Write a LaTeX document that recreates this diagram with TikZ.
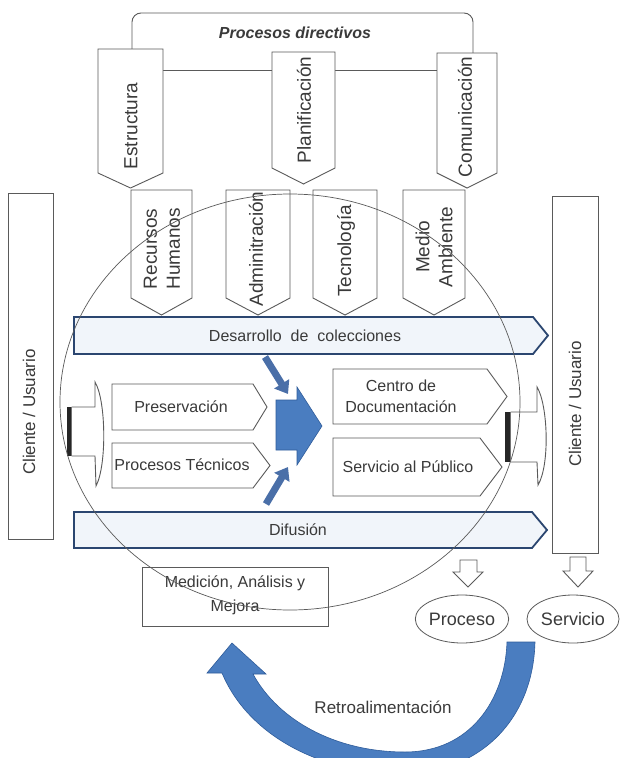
\documentclass[tikz,border=0pt]{standalone}
\usepackage{fontspec}
\setmainfont{Liberation Sans}
\usetikzlibrary{arrows.meta,shapes.geometric}
\definecolor{txt}{HTML}{3A3A3A}
\definecolor{edge}{HTML}{5A5A5A}
\definecolor{navy}{HTML}{2B4670}
\definecolor{barfill}{HTML}{F1F5FA}
\definecolor{blueA}{HTML}{4A7DC0}
\definecolor{blueB}{HTML}{2F5C9A}
\definecolor{blueC}{HTML}{4A6FA8}
\newcommand\pentD[5]{\draw[pshape] (#1,#3) -- (#2,#3) -- (#2,#4) -- ({(#1+#2)/2},#5) -- (#1,#4) -- cycle;}
\newcommand\pentR[5]{\draw[pshape] (#1,#4) -- (#2,#4) -- (#3,{(#4+#5)/2}) -- (#2,#5) -- (#1,#5) -- cycle;}
\begin{document}
\begin{tikzpicture}[x=1pt,y=-1pt,
  pshape/.style={draw=edge, line width=0.9pt, fill=white},
  bar/.style={draw=navy, line width=1.8pt, fill=barfill},
  vtext/.style={rotate=90, text=txt, font=\fontsize{19}{23}\selectfont, align=center, inner sep=0},
  htext/.style={text=txt, font=\fontsize{16}{21}\selectfont, align=center, inner sep=0},
  hollow/.style={draw=edge, line width=0.9pt, fill=white},
  bluearrow/.style={draw=blueB, line width=0.6pt, fill=blueA},
  smallarrow/.style={blueC, line width=7pt, -{Triangle[width=17pt,length=12pt]}}
]
\useasboundingbox (0,0) rectangle (621,758);
\fill[white] (0,0) rectangle (621,758);

% frame of Procesos directivos
\draw[edge, line width=0.9pt, rounded corners=9pt] (132,52) -- (132,13) -- (473,13) -- (473,56);
\node[text=txt, font=\bfseries\itshape\fontsize{16}{18}\selectfont] (title) at (295,33) {Procesos directivos};
\draw[edge, line width=0.9pt] (163,70) -- (272,70);
\draw[edge, line width=0.9pt] (335,70) -- (437,70);

% top pentagons
\pentD{98}{163}{49}{173}{188}
\pentD{272}{335}{52}{168}{184}
\pentD{437}{497}{53}{173}{188}
\node[vtext] (estr) at (131,126) {Estructura};
\node[vtext] (plan) at (304,110) {Planificación};
\node[vtext] (comu) at (465,117) {Comunicación};

% second row
\pentD{131}{192}{190}{298}{315}
\pentD{226}{290}{190}{298}{315}
\pentD{313}{377}{190}{298}{315}
\pentD{403}{465}{190}{298}{315}
\node[vtext] (rrhh) at (162,249) {Recursos\\Humanos};
\node[vtext] (admin) at (256,249) {Adminitración};
\node[vtext] (tecno) at (346,251) {Tecnología};
\node[vtext] (medio) at (434,247) {Medio\\Ambiente};

% client boxes
\draw[pshape] (8,193) rectangle (53,539);
\node[text=txt, rotate=90, font=\fontsize{17}{20}\selectfont] (cli1) at (29,412) {Cliente / Usuario};
\draw[pshape] (552,196) rectangle (598,553);
\node[text=txt, rotate=90, font=\fontsize{17}{20}\selectfont] (cli2) at (575,404) {Cliente / Usuario};

% bars
\draw[bar] (74,317) -- (533,317) -- (548,335.5) -- (533,354) -- (74,354) -- cycle;
\node[htext] (desa) at (305,336) {Desarrollo\ \ de\ \ colecciones};
\draw[bar] (74,512) -- (532,512) -- (547,530) -- (532,548) -- (74,548) -- cycle;
\node[htext] (difu) at (298,530) {Difusión};

% inner pentagons
\pentR{112}{253}{267}{384}{430}
\pentR{112}{253}{270}{443}{488}
\pentR{333}{487}{507}{369}{424}
\pentR{333}{480}{502}{438}{496}
\node[htext] (pres) at (181,407) {Preservación};
\node[htext] (ptec) at (182,465) {Procesos Técnicos};
\node[htext] (cdoc) at (401,396) {Centro de\\Documentación};
\node[htext] (spub) at (408,467) {Servicio al Público};

% central blue arrow and small arrows
\draw[bluearrow] (276,400) -- (297,400) -- (297,387) -- (322,426) -- (297,465) -- (297,450) -- (276,450) -- cycle;
\draw[smallarrow] (265,357) -- (288,394);
\draw[smallarrow] (266,504) -- (288,467);

% hollow arrows
\fill[black!85] (67,407) rectangle (71.5,456);
\draw[hollow] (71.5,407) -- (95,407) -- (95,382) .. controls (106,400) and (107,465) .. (96,486) -- (95,456) -- (71.5,456);
\fill[black!85] (505,412) rectangle (510.5,462);
\draw[hollow] (510.5,412) -- (537,412) -- (537,387) .. controls (548,405) and (550,465) .. (538,485) -- (537,462) -- (510.5,462);

% measurement box
\draw[pshape] (142,567) rectangle (328,626);
\node[htext, font=\fontsize{16}{24}\selectfont] (mej) at (235,595) {Medición, Análisis y\\Mejora};

% down arrows
\draw[hollow] (460,560) -- (477,560) -- (477,572) -- (483,572) -- (468,587) -- (453,572) -- (460,572) -- cycle;
\draw[hollow] (570,557) -- (586,557) -- (586,571) -- (593,571) -- (578,587) -- (563,571) -- (570,571) -- cycle;

% ellipses
\node[draw=edge, line width=0.8pt, ellipse, minimum width=84pt, minimum height=48pt, inner sep=0, text=txt, font=\fontsize{18}{20}\selectfont] (proc) at (462,619) {Proceso};
\node[draw=edge, line width=0.8pt, ellipse, minimum width=92pt, minimum height=48pt, inner sep=0, text=txt, font=\fontsize{18}{20}\selectfont] (serv) at (573,619) {Servicio};

% big feedback arrow
\begin{scope}
\clip (0,0) rectangle (621,758);
\draw[bluearrow] (535,642) .. controls (533,720) and (480,772) .. (405,774) .. controls (320,774) and (248,735) .. (222,673)
  -- (207,673) -- (232,643) -- (266,674) -- (253,674)
  .. controls (278,720) and (335,752) .. (405,752) .. controls (470,752) and (505,700) .. (507,642) -- cycle;
\end{scope}
\node[text=txt, font=\fontsize{17}{20}\selectfont] (retro) at (383,707) {Retroalimentación};

% big circle
\draw[edge, line width=0.7pt] (290,402) ellipse [x radius=230, y radius=208];
\end{tikzpicture}
\end{document}
